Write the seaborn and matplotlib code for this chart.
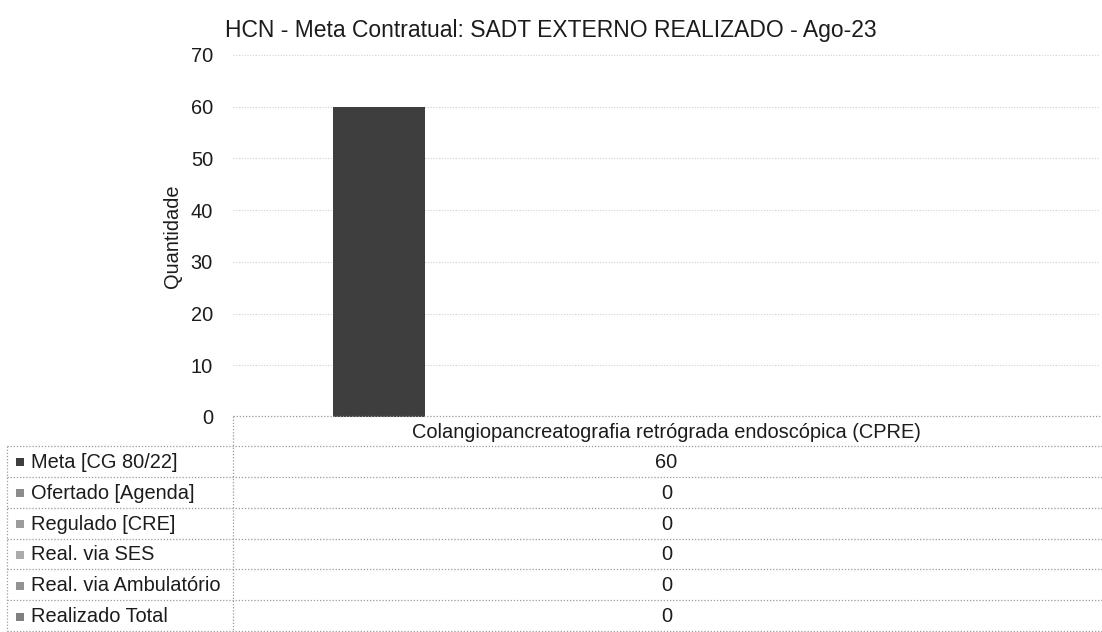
import numpy as np
import pandas as pd
import matplotlib
matplotlib.use("Agg")
import matplotlib.pyplot as plt
from matplotlib.patches import Rectangle
import seaborn as sns

# ==================== dados ====================
procedimento = "Colangiopancreatografia retrógrada endoscópica (CPRE)"
series = [
    "Meta [CG 80/22]",
    "Ofertado [Agenda]",
    "Regulado [CRE]",
    "Real. via SES",
    "Real. via Ambulatório",
    "Realizado Total",
]
valores = [60, 0, 0, 0, 0, 0]
y_ticks = [0, 10, 20, 30, 40, 50, 60, 70]

titulo = "HCN - Meta Contratual: SADT EXTERNO REALIZADO - Ago-23"
y_label = "Quantidade"

# cores (tons de cinza da impressão)
cores = ["#3e3e3e", "#8c8c8c", "#9c9c9c", "#ababab", "#939393", "#808080"]

df = pd.DataFrame({
    "procedimento": [procedimento] * len(series),
    "serie": series,
    "quantidade": valores,
})

# ==================== estilo ====================
sns.set_theme(style="white")
plt.rcParams["font.family"] = ["Liberation Sans", "DejaVu Sans"]
TXT = "#1c1c1c"
plt.rcParams.update({"text.color": TXT, "axes.labelcolor": TXT,
                     "ytick.color": TXT, "xtick.color": TXT})
FS = 14.4
GRID_LS = (0, (1, 1.5))

W, H = 1102, 632
fig = plt.figure(figsize=(W / 100, H / 100), dpi=100)

# área do gráfico (pixels): x 233..1100, y 55..417
ax = fig.add_axes([233 / W, 1 - 417 / H, 867 / W, (417 - 55) / H])
ax.patch.set_alpha(0)

sns.barplot(
    data=df, x="procedimento", y="quantidade", hue="serie",
    hue_order=series, palette=cores, saturation=1,
    width=0.797, gap=0.2, linewidth=0, legend=False, ax=ax,
)

ax.set_xlim(-0.5, 0.5)
ax.set_ylim(0, 70)
ax.set_yticks(y_ticks)
ax.set_yticklabels([str(v) for v in y_ticks], fontsize=FS)
ax.set_xticks([])
ax.set_xlabel("")
ax.set_ylabel(y_label, fontsize=FS, labelpad=6.5)
ax.tick_params(axis="y", length=0, pad=14.4)
for s in ax.spines.values():
    s.set_visible(False)
ax.yaxis.grid(True, color="#d0d0d0", linestyle=GRID_LS, linewidth=0.8)
ax.set_axisbelow(True)

fig.text(0.5, 1 - 37 / H, titulo, ha="center", va="baseline", fontsize=16.5)

# ==================== tabela de dados ====================
tab = fig.add_axes([0, 0, 1, 1])
tab.set_xlim(0, W)
tab.set_ylim(H, 0)
tab.axis("off")

line_kw = dict(color="#9a9a9a", linestyle=GRID_LS, linewidth=0.9)
x_left, x_mid, x_right = 7, 233, 1102
head_top, head_bot = 416, 446
row_h = (H - 1 - head_bot) / len(series)
col_center = 233 + 867 / 2

# cabeçalho
tab.plot([x_mid, x_right], [head_top, head_top], **line_kw)
tab.plot([x_mid, x_mid], [head_top, H - 1], **line_kw)
tab.text(col_center, (head_top + head_bot) / 2 + 1, procedimento,
         ha="center", va="center", fontsize=FS)

# linhas
tab.plot([x_left, x_left], [head_bot, H - 1], **line_kw)
for i, (nome, val, cor) in enumerate(zip(series, valores, cores)):
    y0 = head_bot + i * row_h
    yc = y0 + row_h / 2 + 1
    tab.plot([x_left, x_right], [y0, y0], **line_kw)
    tab.add_patch(Rectangle((16, yc - 4), 8, 8, color=cor, lw=0))
    tab.text(31, yc, nome, ha="left", va="center", fontsize=FS)
    tab.text(col_center, yc, f"{val}", ha="center", va="center", fontsize=FS)
tab.plot([x_left, x_right], [H - 1, H - 1], **line_kw)

fig.savefig("out.png", dpi=100)
plt.close(fig)
